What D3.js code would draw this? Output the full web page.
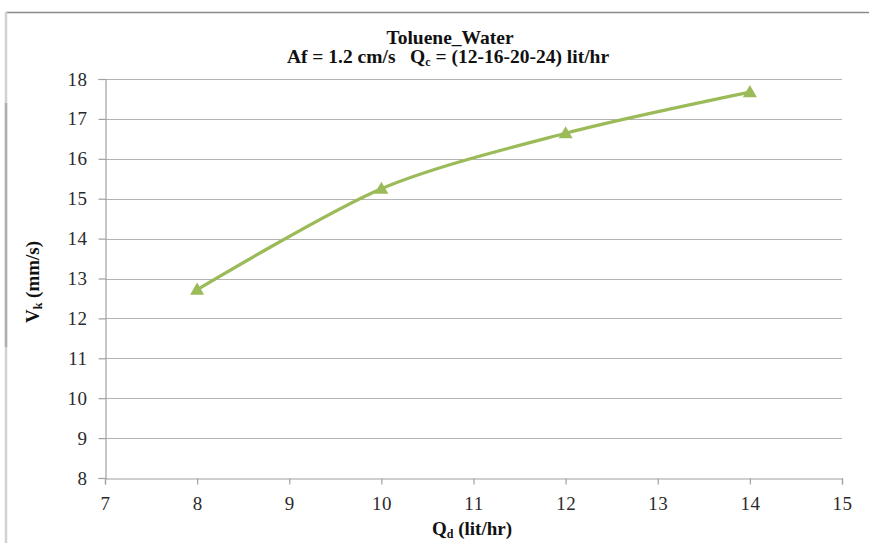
<!DOCTYPE html>
<html>
<head>
<meta charset="utf-8">
<script src="https://cdn.jsdelivr.net/npm/d3@7"></script>
<style>
  body { margin: 0; background: #fff; }
  svg text { font-family: "Liberation Serif", "Times New Roman", serif; }
</style>
</head>
<body>
<svg id="chart" width="869" height="543"></svg>
<script>
// data
let flowRates = [8, 10, 12, 14];          // Qd (lit/hr)
let velocities = [12.72, 15.25, 16.64, 17.67]; // Vk (mm/s)
let xTicks = [7, 8, 9, 10, 11, 12, 13, 14, 15];
let yTicks = [8, 9, 10, 11, 12, 13, 14, 15, 16, 17, 18];

let svg = d3.select("#chart");
let green = "#9bbb59";

// frame bits from the scanned page
svg.append("line").attr("x1", 6).attr("x2", 869).attr("y1", 12.5).attr("y2", 12.5)
   .attr("stroke", "#8a8a8a").attr("stroke-width", 1.5);
svg.append("line").attr("x1", 6).attr("x2", 6).attr("y1", 12).attr("y2", 543)
   .attr("stroke", "#d2d2d2").attr("stroke-width", 2.5);
svg.append("line").attr("x1", 6).attr("x2", 6).attr("y1", 103).attr("y2", 347)
   .attr("stroke", "#b0b0b0").attr("stroke-width", 2.5);

let x = d3.scaleLinear().domain([7, 15]).range([105, 842]);
let y = d3.scaleLinear().domain([8, 18]).range([478, 79]);

// horizontal grid
svg.append("g")
   .selectAll("line")
   .data(yTicks.slice(1))
   .enter()
   .append("line")
   .attr("x1", x(7)).attr("x2", x(15))
   .attr("y1", d => Math.round(y(d)) + 0.5)
   .attr("y2", d => Math.round(y(d)) + 0.5)
   .attr("stroke", "#b3b3b3").attr("stroke-width", 1.2);

let xAxis = svg.append("g")
   .attr("transform", `translate(0,${Math.round(y(8)) + 0.5})`)
   .call(d3.axisBottom(x).tickValues(xTicks).tickSize(6).tickPadding(12).tickFormat(d3.format("d")));
let yAxis = svg.append("g")
   .attr("transform", `translate(${Math.round(x(7)) + 0.5},0)`)
   .call(d3.axisLeft(y).tickValues(yTicks).tickSize(7).tickPadding(11).tickFormat(d3.format("d")));

[xAxis, yAxis].forEach(function(a){
    a.attr("font-family", null).attr("font-size", null);
    a.select(".domain").attr("stroke", "#a0a0a0").attr("stroke-width", 1.2);
    a.selectAll(".tick line").attr("stroke", "#a0a0a0").attr("stroke-width", 1.2);
    a.selectAll("text").attr("fill", "#2a2a2a").style("font-size", "19px")
     .style("letter-spacing", "0.5px");
});

// smoothed series line
let line = d3.line()
    .x((d, i) => x(flowRates[i]))
    .y(d => y(d))
    .curve(d3.curveCardinal.tension(0.15));

svg.append("path")
   .datum(velocities)
   .attr("d", line)
   .attr("fill", "none")
   .attr("stroke", green)
   .attr("stroke-width", 3.2);

svg.append("g")
   .selectAll("path")
   .data(velocities)
   .enter()
   .append("path")
   .attr("d", d3.symbol().type(d3.symbolTriangle).size(85))
   .attr("transform", (d, i) => `translate(${x(flowRates[i])},${y(d) + 1})`)
   .attr("fill", green);

// titles
svg.append("text")
   .attr("x", 450).attr("y", 44)
   .attr("text-anchor", "middle")
   .style("font-weight", "bold").style("font-size", "19.5px").attr("fill", "#111")
   .text("Toluene_Water");

let sub = svg.append("text")
   .attr("x", 448).attr("y", 63)
   .attr("text-anchor", "middle")
   .style("font-weight", "bold").style("font-size", "19.5px").attr("fill", "#111")
   .attr("xml:space", "preserve");
sub.append("tspan").text("Af = 1.2 cm/s   Q");
sub.append("tspan").attr("dy", 3).style("font-size", "12px").text("c");
sub.append("tspan").attr("dy", -3).text(" = (12-16-20-24) lit/hr");

let xl = svg.append("text")
   .attr("x", 472).attr("y", 535)
   .attr("text-anchor", "middle")
   .style("font-weight", "bold").style("font-size", "19px").attr("fill", "#111");
xl.append("tspan").text("Q");
xl.append("tspan").attr("dy", 3).style("font-size", "12px").text("d");
xl.append("tspan").attr("dy", -3).text(" (lit/hr)");

let yl = svg.append("text")
   .attr("transform", "translate(39,282) rotate(-90)")
   .attr("text-anchor", "middle")
   .style("font-weight", "bold").style("font-size", "19px").attr("fill", "#111");
yl.append("tspan").text("V");
yl.append("tspan").attr("dy", 3).style("font-size", "12px").text("k");
yl.append("tspan").attr("dy", -3).text(" (mm/s)");
</script>
</body>
</html>
